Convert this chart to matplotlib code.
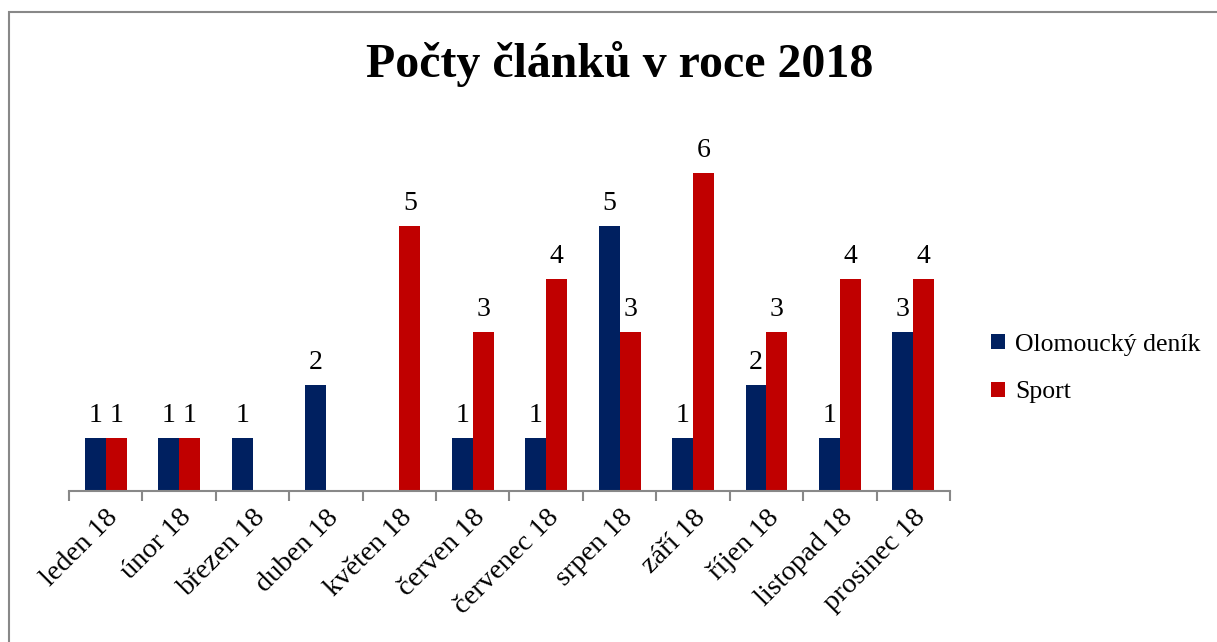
import matplotlib.pyplot as plt
import numpy as np
from matplotlib.patches import Rectangle

months = ['leden 18', 'únor 18', 'březen 18', 'duben 18', 'květen 18',
          'červen 18', 'červenec 18', 'srpen 18', 'září 18', 'říjen 18',
          'listopad 18', 'prosinec 18']
olomoucky = [1, 1, 1, 2, 0, 1, 1, 5, 1, 2, 1, 3]
sport = [1, 1, 0, 0, 5, 3, 4, 3, 6, 3, 4, 4]

plt.rcParams['font.family'] = ['Liberation Serif', 'DejaVu Serif']

fig = plt.figure(figsize=(12.17, 6.42), dpi=100)
ax = fig.add_axes([69 / 1217, 1 - 491 / 642, 881 / 1217, 371 / 642])

# outer chart frame, only top and left edges are visible
fig.patches.append(Rectangle((9 / 1217, -0.1), 1.2, (642 - 12) / 642 + 0.1,
                             transform=fig.transFigure, fill=False,
                             edgecolor='#888888', linewidth=1.5))

x = np.arange(len(months))
w = 0.285
b1 = ax.bar(x - w / 2, olomoucky, w, color='#002060', label='Olomoucký deník')
b2 = ax.bar(x + w / 2, sport, w, color='#C00000', label='Sport')

for bars, vals in ((b1, olomoucky), (b2, sport)):
    for r, v in zip(bars, vals):
        if v == 0:
            continue
        ax.annotate(str(v), (r.get_x() + r.get_width() / 2, v),
                    xytext=(0, 7), textcoords='offset points',
                    ha='center', va='bottom', fontsize=20)

ax.set_xlim(-0.5, len(months) - 0.5)
ax.set_ylim(0, 7)
ax.set_yticks([])
for s in ['top', 'right', 'left']:
    ax.spines[s].set_visible(False)
ax.spines['bottom'].set_color('#888888')
ax.spines['bottom'].set_linewidth(1.5)

ax.set_xticks(np.arange(len(months) + 1) - 0.5)
ax.set_xticklabels([])
ax.tick_params(axis='x', which='major', length=7, width=1.5, color='#888888')
ax.set_xticks(x, minor=True)
ax.set_xticklabels(months, minor=True, rotation=45, ha='right',
                   rotation_mode='anchor', fontsize=20.5)
ax.tick_params(axis='x', which='minor', length=0, pad=10)

fig.text(620 / 1217, 1 - 64 / 642, 'Počty článků v roce 2018',
         ha='center', va='center', fontsize=34.5, fontweight='bold')

ax.legend(loc='center left', bbox_to_anchor=((991 - 69) / 881, 0.33),
          frameon=False, fontsize=18.5, handlelength=0.55, handleheight=0.55,
          handletextpad=0.4, labelspacing=1.0, borderaxespad=0, borderpad=0)

fig.savefig('out.png', dpi=100)
